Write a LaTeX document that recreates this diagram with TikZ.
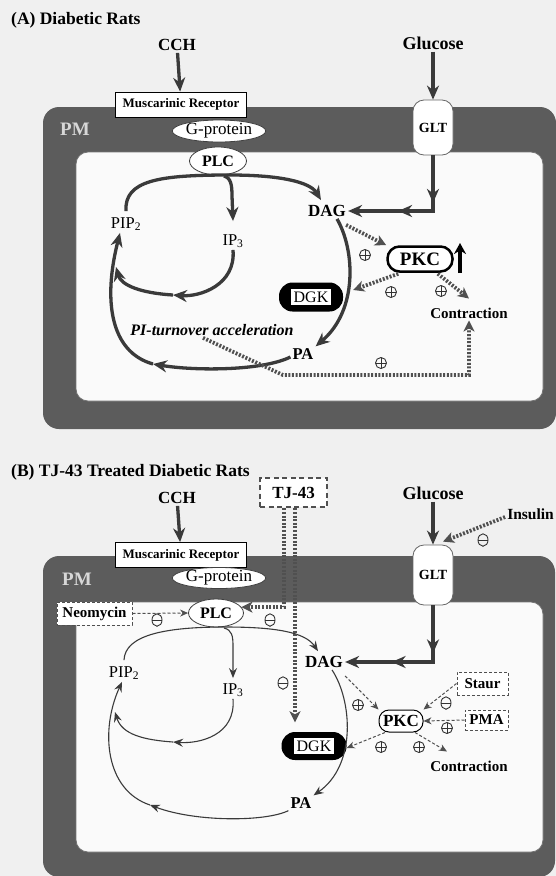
\documentclass[tikz,border=0pt]{standalone}
\usepackage{fontspec}
\usepackage{graphicx}
\setmainfont{Liberation Serif}
\usetikzlibrary{arrows.meta,decorations.markings,shapes.geometric,calc}
\definecolor{bgc}{RGB}{240,240,240}
\definecolor{bandc}{RGB}{92,92,92}
\definecolor{innerc}{RGB}{250,250,250}
\definecolor{arrc}{RGB}{58,58,58}
\definecolor{dotc}{RGB}{80,80,80}
\definecolor{pmc}{RGB}{215,215,215}
\definecolor{sgnc}{RGB}{50,50,50}
\newcommand\fsz[1]{\fontsize{#1pt}{#1pt}\selectfont}
\setlength\fboxsep{2.5pt}
\tikzset{
  TipA/.tip={Stealth[length=14pt,width=12pt,inset=4.5pt]},
  TipB/.tip={Stealth[length=10pt,width=8pt,inset=3.5pt]},
  TipD/.tip={Stealth[length=11pt,width=11pt,inset=3pt]},
  TipS/.tip={Stealth[length=8pt,width=7pt,inset=2.5pt]},
  thickarr/.style={draw=arrc, line width=3.3pt, -{TipA}},
  thinarr/.style={draw=arrc, line width=1.1pt, -{TipB}},
  dotarr/.style={draw=dotc, line width=3.8pt, dash pattern=on 2pt off 1.6pt, -{TipD}},
  dashthin/.style={draw=dotc, line width=1pt, dash pattern=on 3pt off 2pt, -{TipS}},
  midA/.style 2 args={postaction={decorate,decoration={markings,
     mark=at position #1 with {\arrow{TipA}},
     mark=at position #2 with {\arrow{TipA}}}}},
  ttl/.style={font=\bfseries\fsz{17.5}, inner sep=0pt},
  big/.style={font=\bfseries\fsz{17}, inner sep=2pt},
  musc/.style={draw=black, fill=white, line width=0.8pt, minimum width=131pt, minimum height=25pt, inner sep=0pt, font=\bfseries\fsz{13}},
  gprot/.style={ellipse, draw=black!75, fill=white, line width=0.8pt, minimum width=93pt, minimum height=22pt, inner sep=0pt, font=\fsz{17}},
  plcsty/.style={ellipse, draw=black!75, fill=white, line width=0.8pt, minimum width=57pt, minimum height=28pt, inner sep=0pt, font=\bfseries\fsz{16}},
  glt/.style={rectangle, rounded corners=11pt, draw=black!60, fill=white, line width=0.8pt, minimum width=40pt, minimum height=56pt, inner sep=0pt, font=\bfseries\fsz{14}},
  pmlbl/.style={text=pmc, font=\bfseries\fsz{19}, inner sep=0pt},
  reg/.style={font=\fsz{16.5}, inner sep=2pt},
  bold16/.style={font=\bfseries\fsz{16.5}, inner sep=2pt},
  pkcbig/.style={rounded corners=12pt, draw=black, line width=2.5pt, fill=white, minimum width=65pt, minimum height=25pt, inner sep=0pt, font=\bfseries\fsz{19}},
  pkcsmall/.style={rounded corners=10pt, draw=black, line width=1pt, fill=white, minimum width=44pt, minimum height=22pt, inner sep=0pt, font=\bfseries\fsz{17}},
  dgkpill/.style={rounded corners=13.5pt, fill=black, minimum width=64pt, minimum height=29pt, inner sep=0pt, font=\fsz{16}},
  contr/.style={font=\bfseries\fsz{15}, inner sep=2pt},
  ital/.style={font=\bfseries\itshape\fsz{16}, inner sep=2pt},
  dbox/.style={draw=dotc, dash pattern=on 3pt off 2pt, line width=1pt, fill=white, inner sep=0pt, font=\bfseries\fsz{15}},
  tjbox/.style={draw=dotc, dash pattern=on 5pt off 3.5pt, line width=2.6pt, fill=white, minimum width=67pt, minimum height=29pt, inner sep=0pt, font=\bfseries\fsz{17}},
  plussign/.style={circle, draw=sgnc, line width=0.9pt, minimum size=11pt, inner sep=0pt,
     path picture={\draw[sgnc, line width=0.9pt] (path picture bounding box.north) -- (path picture bounding box.south)
        (path picture bounding box.west) -- (path picture bounding box.east);}},
  minussign/.style={ellipse, draw=sgnc, line width=0.9pt, minimum width=10pt, minimum height=12.5pt, inner sep=0pt,
     path picture={\draw[sgnc, line width=0.9pt] (path picture bounding box.west) -- (path picture bounding box.east);}},
}
\begin{document}
\begin{tikzpicture}[x=1pt,y=-1pt]
\useasboundingbox (0,0) rectangle (556,876);
\clip (0,0) rectangle (556,876);
\fill[bgc] (0,0) rectangle (556,876);
% membranes
\fill[bandc, rounded corners=16pt] (43,107) rectangle (556,429);
\filldraw[fill=innerc, draw=black!55, line width=0.8pt, rounded corners=12pt] (76,152) rectangle (543,401);
\fill[bandc, rounded corners=16pt] (43,556) rectangle (555,877);
\filldraw[fill=innerc, draw=black!55, line width=0.8pt, rounded corners=12pt] (76,602) rectangle (543,852);

% ================= Panel A =================
\node[ttl, anchor=west] (titA) at (11,20) {(A) Diabetic Rats};
\node[big] (cchA) at (177,45) {CCH};
\node[musc] (muscA) at (181,104.5) {Muscarinic Receptor};
\node[gprot] (gpA) at (219,131) {G-protein};
\node[plcsty] (plcA) at (218,161) {PLC};
\node[big, font=\bfseries\fsz{18}] (gluA) at (433,43) {Glucose};
\node[glt, minimum height=55pt] (gltA) at (433,127.5) {GLT};
\node[pmlbl] (pmA) at (75,129) {PM};
\node[big] (dagA) at (327,211) {DAG};
\node[reg] (pipA) at (126,224) {PIP\textsubscript{2}};
\node[reg] (ip3A) at (233,241) {IP\textsubscript{3}};
\node[pkcbig] (pkcA) at (420,259) {PKC};
\node[dgkpill] (dgkA) at (311,297) {\colorbox{white}{DGK}};
\node[contr] (conA) at (469,313) {Contraction};
\node[ital] (piA) at (212,330) {PI-turnover acceleration};
\node[bold16] (paA) at (303,354) {PA};

\coordinate (brA) at (224,176);
\coordinate (mA1) at (173,295);
\coordinate (jA) at (116,267);
\coordinate (mA2) at (153,364);
\coordinate (upA1) at (460,273);
\coordinate (upA2) at (460,243);
\coordinate (cornA) at (283,375);

\draw[thickarr] (cchA) -- (muscA);
\draw[thickarr] (gluA) -- (gltA);
\draw[thickarr, midA={47.5pt}{90.5pt}] (gltA.south) -- (gltA.south |- dagA.east) -- (dagA.east);
\draw[thickarr] ([yshift=4pt]pipA.north) .. controls (124,180) and (160,175) .. (230,175)
   .. controls (280,175) and (310,182) .. ([xshift=-6pt,yshift=3pt]dagA.north);
\draw[thickarr] (brA) .. controls (231,178) and (232,185) .. (232,196) -- ([yshift=11pt]ip3A.north);
\draw[thickarr] (ip3A.south) .. controls (236,285) and (200,297) .. (mA1);
\draw[thickarr] (mA1) .. controls (140,293) and (121,285) .. (jA);
\draw[thickarr] ([yshift=-3pt]paA.west) .. controls (262,371) and (195,371) .. (mA2);
\draw[thickarr] (mA2) .. controls (110,352) and (103,300) .. ([xshift=-6pt]pipA.south);
\draw[thickarr] ([xshift=10pt]dagA.south) .. controls (355,250) and (358,310) .. (paA.north east);
\draw[draw=black, line width=3.6pt, -{Stealth[length=11pt,width=12pt]}] (upA1) -- (upA2);

\draw[dotarr] ([xshift=-2pt,yshift=-6pt]dagA.south east) -- (pkcA.north west);
\draw[dotarr] ([xshift=12pt,yshift=-1pt]pkcA.south west) -- ([shift={(10pt,7pt)}]dgkA.east);
\draw[dotarr] ([xshift=-16pt,yshift=-1pt]pkcA.south east) -- ([yshift=7pt]conA.north);
\draw[dotarr] ([xshift=-9pt]piA.south) -- (cornA) -- (conA.south |- cornA) -- (conA.south);

\node[plussign] (sA1) at (365,255) {};
\node[plussign] (sA2) at (391,292) {};
\node[plussign] (sA3) at (441,291) {};
\node[plussign] (sA4) at (381,363) {};

% ================= Panel B =================
\node[ttl, anchor=west] (titB) at (11,472) {(B) TJ-43 Treated Diabetic Rats};
\node[big] (cchB) at (177,498) {CCH};
\node[musc] (muscB) at (181,555) {Muscarinic Receptor};
\node[gprot, minimum height=21pt] (gpB) at (219,578) {G-protein};
\node[plcsty, minimum width=55pt] (plcB) at (216,613) {PLC};
\node[dbox, minimum width=75pt, minimum height=23pt] (neoB) at (94.5,613.5) {Neomycin};
\node[tjbox] (tjB) at (293.5,492.5) {TJ-43};
\node[big, font=\bfseries\fsz{18}] (gluB) at (433,493) {Glucose};
\node[glt, minimum height=60pt] (gltB) at (433,575) {GLT};
\node[bold16, font=\bfseries\fsz{15.5}, anchor=east] (insB) at (556,514) {Insulin};
\node[pmlbl] (pmB) at (77,579) {PM};
\node[big] (dagB) at (324,662) {DAG};
\node[reg] (pipB) at (124,673) {PIP\textsubscript{2}};
\node[reg] (ip3B) at (233,690) {IP\textsubscript{3}};
\node[dgkpill, minimum width=65pt, minimum height=28pt] (dgkB) at (314,746) {\colorbox{white}{DGK}};
\node[pkcsmall] (pkcB) at (401,721) {PKC};
\node[dbox, minimum width=51pt, minimum height=23pt] (staB) at (482.5,683.5) {Staur};
\node[dbox, minimum width=43pt, minimum height=20pt] (pmaB) at (486.5,720) {PMA};
\node[contr] (conB) at (469,766) {Contraction};
\node[bold16] (paB) at (301,803) {PA};

\coordinate (brB) at (224,628);
\coordinate (mB1) at (173,742);
\coordinate (jB) at (115,712);
\coordinate (mB2) at (150,805);

\draw[thickarr] (cchB) -- (muscB);
\draw[thickarr] (gluB) -- (gltB);
\draw[thickarr, midA={48pt}{98pt}] (gltB.south) -- (gltB.south |- dagB.east) -- (dagB.east);
\draw[thinarr] ([yshift=4pt]pipB.north) .. controls (125,635) and (165,627) .. (225,627)
   .. controls (275,627) and (305,632) .. ([xshift=-6pt,yshift=3pt]dagB.north);
\draw[thinarr] (brB) .. controls (232,630) and (233,636) .. (233,646) -- ([yshift=3pt]ip3B.north);
\draw[thinarr] (ip3B.south) .. controls (236,735) and (200,744) .. (mB1);
\draw[thinarr] (mB1) .. controls (145,740) and (122,735) .. (jB);
\draw[thinarr] (paB.south west) .. controls (265,822) and (195,822) .. (mB2);
\draw[thinarr] (mB2) .. controls (105,790) and (100,730) .. ([xshift=-2pt]pipB.south);
\draw[thinarr] ([xshift=8pt]dagB.south) .. controls (352,700) and (357,765) .. (paB.north east);

\draw[dotarr] ([xshift=-9.5pt]tjB.south) |- (plcB.13);
\draw[dotarr] ([xshift=1.5pt]tjB.south) -- ++(0,214);
\draw[dotarr] ([yshift=-3pt]insB.west) -- ([xshift=10pt,yshift=3pt]gltB.north);

\draw[dashthin] (neoB.east) -- (plcB.west);
\draw[dashthin] ([yshift=-6pt]dagB.south east) -- (pkcB.north west);
\draw[dashthin] (staB.west) -- (pkcB.north east);
\draw[dashthin] (pmaB.west) -- (pkcB.east);
\draw[dashthin] ([xshift=-16pt]pkcB.south) -- ([yshift=-2pt]dgkB.east);
\draw[dashthin] ([xshift=14pt]pkcB.south) -- ([xshift=-22pt,yshift=7pt]conB.north);

\node[minussign] (sB1) at (157,620) {};
\node[minussign] (sB2) at (270,620) {};
\node[minussign] (sB3) at (283,683) {};
\node[minussign] (sB4) at (483,540) {};
\node[plussign] (sB5) at (358,705) {};
\node[minussign] (sB6) at (446,703) {};
\node[plussign] (sB7) at (447,728) {};
\node[plussign] (sB8) at (381,747) {};
\node[plussign] (sB9) at (419,747) {};
\end{tikzpicture}
\end{document}
